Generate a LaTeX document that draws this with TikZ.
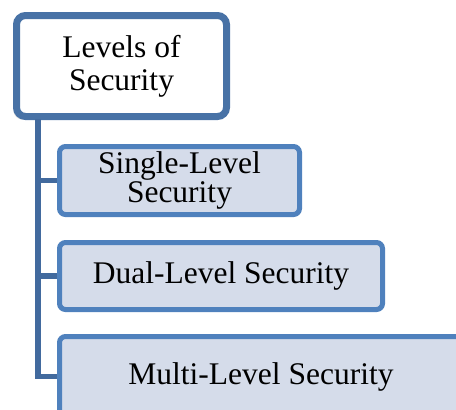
\documentclass[tikz,border=0pt]{standalone}
\usepackage{fontspec}
\setmainfont{Liberation Serif}
\usepackage{xcolor}
\usetikzlibrary{shadows}
\definecolor{topBlue}{RGB}{72,114,166}
\definecolor{boxBlue}{RGB}{79,129,189}
\definecolor{boxFill}{RGB}{213,220,234}
\definecolor{trunkBlue}{RGB}{66,106,158}

\begin{document}
\begin{tikzpicture}[x=1pt,y=-1pt]
		\tikzset{rootbox/.style = {draw=topBlue, line width=7pt, fill=white, rounded corners=9pt,
			minimum width=210pt, minimum height=101pt, inner sep=0pt, align=center,
			font=\fontsize{31.5}{33}\selectfont,
			drop shadow={shadow xshift=-3pt, shadow yshift=-3pt, opacity=.3}}}
		\tikzset{levelbox/.style = {draw=boxBlue, line width=5pt, fill=boxFill, rounded corners=6pt,
			inner sep=0pt, align=center, font=\fontsize{31.5}{24}\selectfont,
			drop shadow={shadow xshift=-1.5pt, shadow yshift=-2pt, opacity=.15}}}
		\tikzset{trunk/.style = {draw=trunkBlue, line width=5.5pt}}

		\useasboundingbox (0,0) rectangle (456,410);
		\clip (0,0) rectangle (456,410);

		\node[rootbox] (L_0) at (121.5,66) {Levels of\\Security};
		\node[levelbox, minimum width=240pt, minimum height=68pt] (L_1) at (179.5,180.5) {Single-Level\\Security};
		\node[levelbox, minimum width=323pt, minimum height=67pt] (L_2) at (221,276) {Dual-Level Security};
		\node[levelbox, minimum width=403pt, minimum height=80pt] (L_3) at (261,376.5) {Multi-Level Security};

		\coordinate (R) at (38,119);

		\draw[trunk] (R) |- (L_1.west);
		\draw[trunk] (R) |- (L_2.west);
		\draw[trunk] (R) |- (L_3.west);

	\end{tikzpicture}
\end{document}
